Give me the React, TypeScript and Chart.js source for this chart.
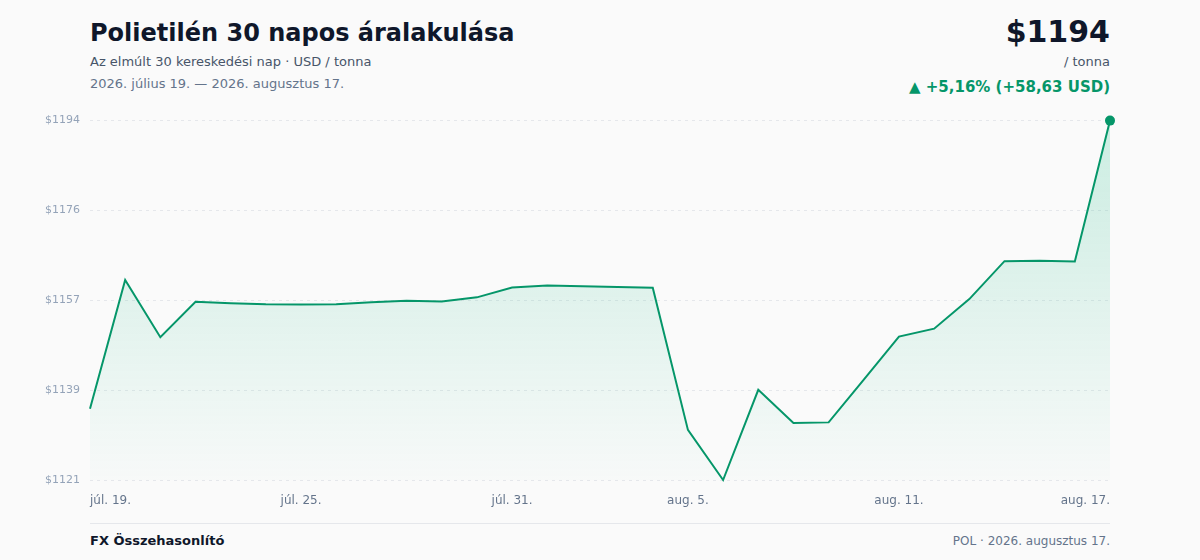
import React, { useEffect, useRef } from "react";
import { Chart, registerables } from "chart.js";

Chart.register(...registerables);

const dates: string[] = [
  "júl. 19.", "júl. 20.", "júl. 21.", "júl. 22.", "júl. 23.", "júl. 24.", "júl. 25.", "júl. 26.", "júl. 27.", "júl. 28.",
  "júl. 29.", "júl. 30.", "júl. 31.", "aug. 1.", "aug. 2.", "aug. 3.", "aug. 4.", "aug. 5.", "aug. 6.", "aug. 7.",
  "aug. 8.", "aug. 9.", "aug. 10.", "aug. 11.", "aug. 12.", "aug. 13.", "aug. 14.", "aug. 15.", "aug. 16.", "aug. 17.",
];

const prices: number[] = [
  1135.37, 1161.56, 1149.94, 1157.15, 1156.85, 1156.63, 1156.61, 1156.63, 1157.03, 1157.36,
  1157.2, 1158.05, 1160.07, 1160.48, 1160.32, 1160.15, 1159.99, 1131.08, 1120.9, 1139.25,
  1132.5, 1132.62, 1141.3, 1150.06, 1151.68, 1157.7, 1165.41, 1165.47, 1165.35, 1194.0,
];

const shownTickIndices: number[] = [0, 6, 12, 17, 23, 29];

const FONT = "'DejaVu Sans', sans-serif";
const GREEN = "#059669";

export default function App() {
  const canvasRef = useRef<HTMLCanvasElement | null>(null);

  useEffect(() => {
    document.body.style.margin = "0";
    document.body.style.background = "#fafafa";
    const canvas = canvasRef.current;
    if (!canvas) return;
    const minV = Math.min(...prices);
    const maxV = Math.max(...prices);

    const xLabelPlugin = {
      id: "xLabels",
      afterDraw(chart: any) {
        const ctx = chart.ctx;
        const xs = chart.scales.x;
        const area = chart.chartArea;
        ctx.save();
        ctx.font = `12px ${FONT}`;
        ctx.fillStyle = "#64748b";
        ctx.textBaseline = "middle";
        shownTickIndices.forEach((i, k) => {
          const x = xs.getPixelForValue(i);
          ctx.textAlign = k === 0 ? "left" : k === shownTickIndices.length - 1 ? "right" : "center";
          ctx.fillText(dates[i], x, area.bottom + 21);
        });
        ctx.restore();
      },
    };

    const chart = new Chart(canvas, {
      type: "line",
      data: {
        labels: dates,
        datasets: [
          {
            data: prices,
            borderColor: GREEN,
            borderWidth: 2,
            tension: 0,
            clip: false as any,
            fill: "start",
            backgroundColor: (c: any) => {
              const area = c.chart.chartArea;
              if (!area) return "rgba(16,185,129,0.1)";
              const g = c.chart.ctx.createLinearGradient(0, area.top, 0, area.bottom);
              g.addColorStop(0, "rgba(16,185,129,0.20)");
              g.addColorStop(1, "rgba(16,185,129,0.01)");
              return g;
            },
            pointRadius: prices.map((_, i) => (i === prices.length - 1 ? 5 : 0)),
            pointBackgroundColor: GREEN,
            pointBorderColor: GREEN,
            pointBorderWidth: 0,
            pointHoverRadius: 0,
          },
        ],
      },
      options: {
        animation: false,
        responsive: false,
        maintainAspectRatio: false,
        layout: { padding: { top: 4, right: 90, bottom: 32, left: 0 } },
        plugins: { legend: { display: false }, tooltip: { enabled: false } },
        scales: {
          x: {
            type: "category",
            offset: false,
            grid: { display: false },
            border: { display: false },
            ticks: { display: false },
          },
          y: {
            min: minV,
            max: maxV,
            afterFit: (scale: any) => {
              scale.width = 90;
            },
            afterBuildTicks: (scale: any) => {
              const t = [];
              for (let i = 0; i <= 4; i++) t.push({ value: minV + ((maxV - minV) * i) / 4 });
              scale.ticks = t;
            },
            grid: { color: "#e5e7eb", drawTicks: false, lineWidth: 1 },
            border: { display: false, dash: [3, 4] },
            ticks: {
              padding: 10,
              color: "#94a3b8",
              font: { family: FONT, size: 11 },
              callback: (v: any) => "$" + Math.round(Number(v)),
            },
          },
        },
      },
      plugins: [xLabelPlugin],
    });
    return () => chart.destroy();
  }, []);

  const abs = (s: React.CSSProperties): React.CSSProperties => ({ position: "absolute", whiteSpace: "nowrap", ...s });

  return (
    <div style={{ position: "relative", width: 1200, height: 560, background: "#fafafa", fontFamily: FONT, overflow: "hidden" }}>
      <div style={abs({ left: 90, top: 19, fontSize: 24, lineHeight: "28px", fontWeight: 700, color: "#0f172a" })}>
        Polietilén 30 napos áralakulása
      </div>
      <div style={abs({ left: 90, top: 53, fontSize: 13, lineHeight: "18px", color: "#475569" })}>
        Az elmúlt 30 kereskedési nap · USD / tonna
      </div>
      <div style={abs({ left: 90, top: 75, fontSize: 13, lineHeight: "18px", color: "#64748b" })}>
        2026. július 19. — 2026. augusztus 17.
      </div>
      <div style={abs({ right: 90, top: 14, fontSize: 30, lineHeight: "36px", fontWeight: 700, color: "#0f172a", textAlign: "right" })}>
        $1194
      </div>
      <div style={abs({ right: 90, top: 53, fontSize: 13, lineHeight: "18px", color: "#475569", textAlign: "right" })}>
        / tonna
      </div>
      <div style={abs({ right: 90, top: 77, fontSize: 15, lineHeight: "20px", fontWeight: 700, color: GREEN, textAlign: "right" })}>
        ▲ +5,16% (+58,63 USD)
      </div>
      <canvas ref={canvasRef} width={1200} height={416} style={{ position: "absolute", left: 0, top: 104, width: 1200, height: 416 }} />
      <div style={{ position: "absolute", left: 90, top: 523, width: 1020, height: 1, background: "#e5e7eb" }} />
      <div style={abs({ left: 90, top: 532, fontSize: 13, lineHeight: "18px", fontWeight: 700, color: "#0f172a" })}>
        FX Összehasonlító
      </div>
      <div style={abs({ right: 90, top: 532, fontSize: 12, lineHeight: "18px", color: "#64748b", textAlign: "right" })}>
        POL · 2026. augusztus 17.
      </div>
    </div>
  );
}
